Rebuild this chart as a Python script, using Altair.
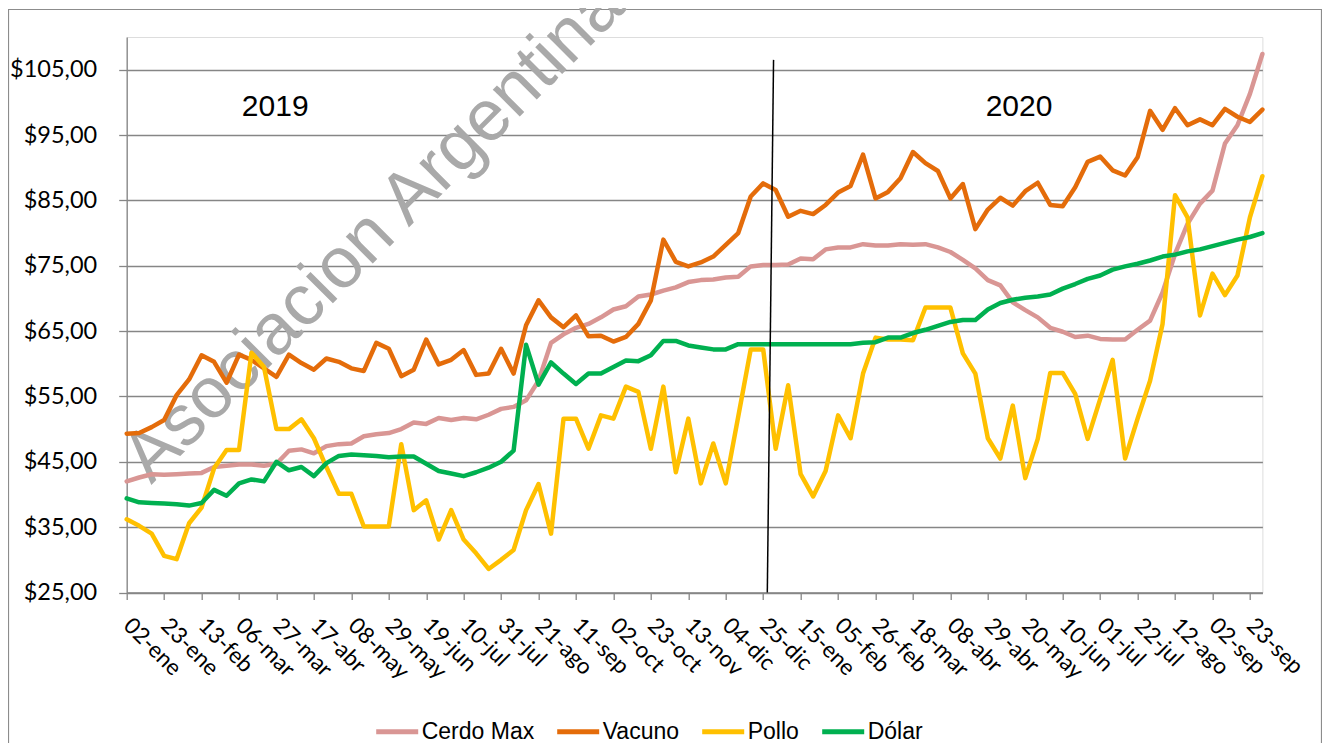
import altair as alt
import pandas as pd

# ---------------- data ----------------
series_names = ["Cerdo Max", "Vacuno", "Pollo", "Dólar"]
series_colors = ["#D99694", "#E46C0A", "#FFC000", "#00B050"]

# weekly observations, 02-ene-2019 .. 30-sep-2020 (92 weeks)
cerdo = [42.0, 42.6, 43.1, 43.0, 43.1, 43.2, 43.3, 44.2, 44.4, 44.6,
         44.6, 44.4, 44.7, 46.7, 46.9, 46.3, 47.4, 47.7, 47.8, 48.9,
         49.2, 49.4, 50.0, 51.0, 50.8, 51.7, 51.4, 51.7, 51.5, 52.2,
         53.1, 53.4, 54.4, 57.4, 63.2, 64.5, 65.5, 66.1, 67.1, 68.3,
         68.8, 70.3, 70.6, 71.2, 71.7, 72.5, 72.8, 72.9, 73.2, 73.3,
         74.9, 75.1, 75.1, 75.2, 76.1, 76.0, 77.5, 77.8, 77.8, 78.3,
         78.1, 78.1, 78.3, 78.2, 78.3, 77.8, 77.1, 75.9, 74.6, 72.8,
         72.0, 69.4, 68.2, 67.1, 65.5, 64.9, 64.1, 64.3, 63.8, 63.7,
         63.7, 65.2, 66.6, 70.9, 76.8, 81.4, 84.5, 86.5, 93.7, 96.5,
         101.3, 107.4]
vacuno = [49.3, 49.4, 50.3, 51.4, 55.2, 57.6, 61.3, 60.3, 57.1, 61.4,
          60.6, 59.3, 58.0, 61.4, 60.1, 59.1, 60.8, 60.3, 59.3, 58.9,
          63.2, 62.3, 58.1, 59.1, 63.7, 59.9, 60.6, 62.1, 58.3, 58.5,
          62.3, 58.5, 65.9, 69.7, 67.1, 65.6, 67.4, 64.2, 64.3, 63.4,
          64.1, 66.1, 69.7, 79.0, 75.6, 74.9, 75.5, 76.4, 78.2, 80.0,
          85.6, 87.6, 86.6, 82.5, 83.4, 82.9, 84.3, 86.2, 87.2, 92.0,
          85.3, 86.3, 88.4, 92.4, 90.7, 89.5, 85.3, 87.5, 80.6, 83.6,
          85.4, 84.2, 86.4, 87.7, 84.3, 84.1, 87.0, 90.9, 91.7, 89.6,
          88.8, 91.6, 98.7, 95.8, 99.1, 96.5, 97.4, 96.5, 99.0, 97.8,
          97.0, 98.9]
pollo = [36.2, 35.2, 34.0, 30.6, 30.1, 35.6, 38.0, 44.0, 46.8, 46.8,
         61.7, 59.5, 50.0, 50.0, 51.5, 48.6, 44.2, 40.1, 40.1, 35.1,
         35.1, 35.1, 47.7, 37.6, 39.1, 33.1, 37.6, 33.1, 31.0, 28.6,
         30.0, 31.5, 37.6, 41.6, 34.0, 51.6, 51.6, 47.0, 52.1, 51.6,
         56.5, 55.7, 47.0, 56.5, 43.4, 51.6, 41.7, 47.8, 41.7, 51.9,
         62.2, 62.2, 47.0, 56.7, 43.1, 39.7, 43.6, 52.1, 48.6, 58.5,
         64.0, 63.7, 63.7, 63.6, 68.6, 68.6, 68.6, 61.6, 58.5, 48.6,
         45.5, 53.6, 42.5, 48.5, 58.6, 58.6, 55.4, 48.5, 54.6, 60.6,
         45.5, 51.6, 57.4, 66.1, 85.8, 82.4, 67.4, 73.8, 70.5, 73.5,
         82.4, 88.7]
dolar = [39.4, 38.8, 38.7, 38.6, 38.5, 38.3, 38.7, 40.7, 39.8, 41.7,
         42.3, 42.0, 45.0, 43.7, 44.2, 42.8, 44.8, 45.9, 46.1, 46.0,
         45.9, 45.7, 45.8, 45.8, 44.7, 43.6, 43.2, 42.8, 43.4, 44.1,
         45.0, 46.7, 62.9, 56.8, 60.2, 58.5, 56.9, 58.5, 58.5, 59.5,
         60.5, 60.4, 61.3, 63.5, 63.5, 62.8, 62.5, 62.2, 62.2, 63.0,
         63.0, 63.0, 63.0, 63.0, 63.0, 63.0, 63.0, 63.0, 63.0, 63.2,
         63.3, 64.0, 64.0, 64.7, 65.2, 65.8, 66.4, 66.7, 66.7, 68.3,
         69.3, 69.8, 70.1, 70.3, 70.6, 71.5, 72.2, 73.0, 73.5, 74.4,
         74.9, 75.3, 75.8, 76.4, 76.7, 77.2, 77.5, 78.0, 78.5, 79.0,
         79.4, 80.0]

tick_labels = ["02-ene", "23-ene", "13-feb", "06-mar", "27-mar", "17-abr",
               "08-may", "29-may", "19-jun", "10-jul", "31-jul", "21-ago",
               "11-sep", "02-oct", "23-oct", "13-nov", "04-dic", "25-dic",
               "15-ene", "05-feb", "26-feb", "18-mar", "08-abr", "29-abr",
               "20-may", "10-jun", "01-jul", "22-jul", "12-ago", "02-sep",
               "23-sep"]

y_ticks = [25, 35, 45, 55, 65, 75, 85, 95, 105]

year_labels = ["2019", "2020"]
year_weeks = [11.9, 71.5]
year_values = [99.3, 99.3]

watermark = "Asociacion Argentina"

# ---------------- build ----------------
weeks = list(range(len(cerdo)))
rows = []
for name, vals in zip(series_names, [cerdo, vacuno, pollo, dolar]):
    for w, v in zip(weeks, vals):
        rows.append({"week": w, "valor": v, "serie": name})
df = pd.DataFrame(rows)

W, H = 1135.7, 555.5
GRID = "#868686"

label_arr = "[" + ",".join("'" + l + "'" for l in tick_labels) + "]"

x_scale = alt.Scale(domain=[0, len(weeks) - 1], nice=False, zero=False)
y_scale = alt.Scale(domain=[25, 110], nice=False, zero=False)

x_axis = alt.Axis(
    values=list(range(0, len(weeks), 3)),
    labelExpr=label_arr + "[round(datum.value/3)]",
    labelAngle=45, labelAlign="left", labelBaseline="middle",
    labelFont="Lato", labelFontSize=22.5, labelColor="#000000",
    labelPadding=22, tickSize=7, tickColor=GRID, domainColor=GRID,
    domainWidth=1.3, tickWidth=1.3, grid=False, title=None,
    labelOverlap=False, labelFlush=False, labelBound=False,
)
y_axis = alt.Axis(
    values=y_ticks,
    labelExpr="'$' + replace(format(datum.value, '.2f'), '.', ',')",
    labelFont="Lato", labelFontSize=23.5, labelColor="#000000",
    labelPadding=22, tickSize=8, tickColor=GRID, domainColor=GRID,
    domainWidth=1.3, tickWidth=1.3, grid=True, gridColor=GRID,
    gridWidth=1.3, title=None, labelOverlap=False, labelFlush=False,
)

X = lambda f: alt.X(f, scale=x_scale, axis=x_axis)
Y = lambda f: alt.Y(f, scale=y_scale, axis=y_axis)

frame = alt.Chart(pd.DataFrame({"a": [0]})).mark_rect(
    filled=False, stroke="#8C8C8C", strokeWidth=1.2
).encode(
    x=alt.value(-118.2), x2=alt.value(1194.8),
    y=alt.value(-27.5), y2=alt.value(1000),
)

wm = alt.Chart(pd.DataFrame({"t": [watermark], "w": [1.97], "v": [41.45]})).mark_text(
    align="left", baseline="alphabetic", angle=315,
    font="Liberation Sans", fontSize=72, color="#A9A9A9",
).encode(
    x=X("w:Q"),
    y=Y("v:Q"),
    text="t:N",
)

lines = alt.Chart(df).mark_line(
    strokeWidth=4.5, strokeCap="round", strokeJoin="round"
).encode(
    x=X("week:Q"),
    y=Y("valor:Q"),
    color=alt.Color(
        "serie:N",
        scale=alt.Scale(domain=series_names, range=series_colors),
        sort=series_names,
        legend=alt.Legend(
            title=None, orient="none", legendX=247, legendY=671,
            direction="horizontal", symbolType="stroke",
            symbolSize=1764, symbolStrokeWidth=5,
            labelFont="Liberation Sans",
            labelFontSize=23, labelColor="#000000", labelOffset=1,
            columnPadding=12, labelLimit=300,
        ),
    ),
    order=alt.Order("week:Q"),
)

divider = alt.Chart(pd.DataFrame({"x": [51.83], "x2": [51.33], "y": [106.5], "y2": [25.0]})).mark_rule(
    color="#000000", strokeWidth=1.5
).encode(
    x=X("x:Q"),
    x2="x2:Q",
    y=Y("y:Q"),
    y2="y2:Q",
)

years = alt.Chart(pd.DataFrame({"t": year_labels, "w": year_weeks, "v": year_values})).mark_text(
    font="Liberation Sans", fontSize=30, color="#000000", align="center", baseline="middle"
).encode(
    x=X("w:Q"),
    y=Y("v:Q"),
    text="t:N",
)

chart = alt.layer(frame, wm, lines, divider, years).properties(
    width=W, height=H,
    autosize=alt.AutoSizeParams(type="none"),
    padding={"left": 118.7, "top": 29, "right": 59.6, "bottom": 150.5},
).configure_view(stroke="transparent").configure(background="#FFFFFF")

chart.save("out.html", embed_options={"renderer": "svg", "actions": False})
